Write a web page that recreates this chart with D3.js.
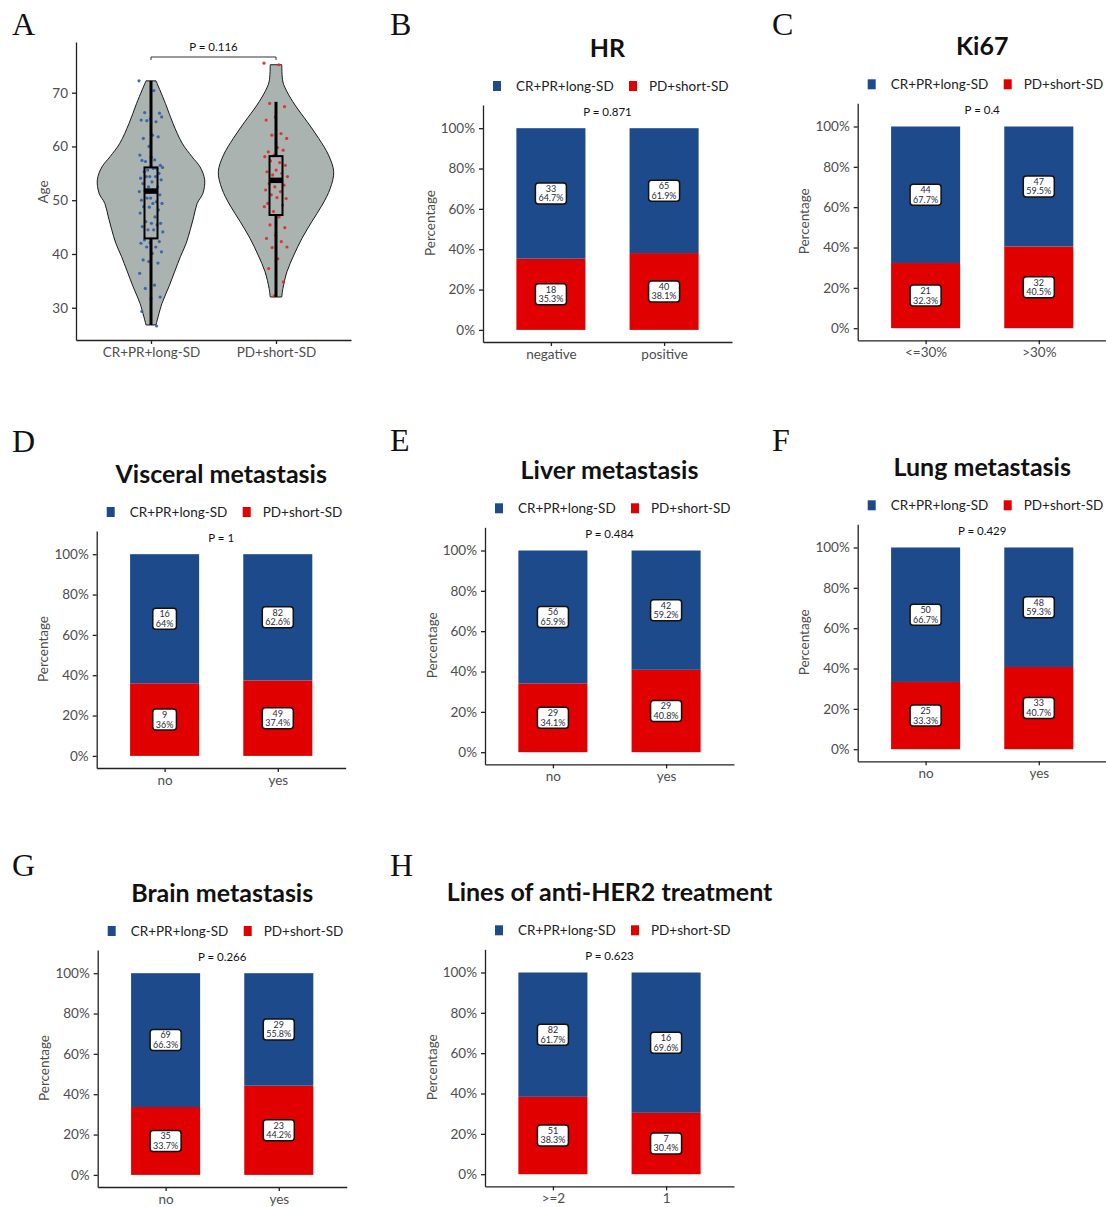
<!DOCTYPE html>
<html>
<head>
<meta charset="utf-8">
<script src="https://cdn.jsdelivr.net/npm/d3@7/dist/d3.min.js"></script>
<style>
  body { margin: 0; background: #fff; }
  svg text { font-family: Lato, "Open Sans", sans-serif; }
</style>
</head>
<body>
<svg id="fig" width="1106" height="1207"></svg>
<script>
// ---- data ----
const groups = ["CR+PR+long-SD", "PD+short-SD"];
const groupColors = ["#1d4a8b", "#e10000"];
const dotColors = ["#2f5ea6", "#e3262b"];

// panel A: age by response
const ageTicks = [30, 40, 50, 60, 70];
const agesGood = [72.2, 70.4, 66.3, 66.2, 65.2, 64.9, 64.6, 64.8, 65.5, 62.1, 61.5, 61.8, 60, 58.4, 57.5,
  57.2, 56.5, 58, 57.4, 55.9, 55.6, 56.1, 55.9, 55.3, 55, 54.4, 54.1, 54.4, 54.4, 53.8, 53.4, 53.1, 52.5,
  52.5, 51.6, 51.6, 51.8, 51, 50.4, 50, 49.7, 50.4, 49.4, 49.4, 48.8, 48.2, 48.7, 47.6, 46.9, 46, 45.7,
  45.7, 45.1, 45.4, 44.5, 44.1, 44.5, 42.6, 42.3, 42.1, 42, 41.3, 41.3, 40.4, 40.1, 38.9, 38.3, 38.6,
  36.4, 34.2, 33.6, 32, 31.7, 29.3, 26.6];
const agesPoor = [75.5, 75.2, 68, 67.4, 65.5, 64.9, 62.4, 62.1, 61.5, 59.8, 59, 59.3, 58.4, 58.1, 57,
  57.3, 56.5, 55.6, 55.3, 55, 54.7, 54.4, 53.8, 53.1, 52.8, 52.5, 51.9, 51.6, 51, 50.3, 50.5, 49.4, 49.1,
  47.9, 48.8, 46.9, 45.4, 44.9, 43.5, 42.9, 42.3, 41.2, 41.3, 39.1, 37.3, 34.8, 32.2];
const violinGoodAge = [26.8, 30.8, 33.9, 37, 39.5, 42, 44.5, 46.9, 49.4, 51.3, 53.8, 56.2, 58.1, 60.6, 64.3, 68, 72.2];
const violinGoodDensity = [0.087, 0.19, 0.31, 0.42, 0.51, 0.61, 0.68, 0.74, 0.80, 0.90, 0.93, 0.85, 0.71, 0.54, 0.38, 0.25, 0.087];
const violinPoorAge = [32.0, 33.6, 36.7, 39.8, 42.9, 46, 49.1, 52.2, 55.3, 58.4, 61.5, 64.6, 67.7, 70.2, 72.0, 75.2];
const violinPoorDensity = [0.10, 0.12, 0.19, 0.31, 0.45, 0.62, 0.80, 0.94, 1, 0.91, 0.74, 0.54, 0.33, 0.19, 0.12, 0.10];
// whisker low, q1, median, q3, whisker high
const boxGood = [26.8, 42.9, 51.7, 56.1, 72.2];
const boxPoor = [32.0, 47.25, 53.7, 58.2, 68.3];
const pAge = "0.116";

// panels B-H: stacked percentage bars
const barTitles = ["HR", "Ki67", "Visceral metastasis", "Liver metastasis", "Lung metastasis",
  "Brain metastasis", "Lines of anti-HER2 treatment"];
const barCategories = [["negative", "positive"], ["<=30%", ">30%"], ["no", "yes"], ["no", "yes"],
  ["no", "yes"], ["no", "yes"], [">=2", "1"]];
const goodCounts = [[33, 65], [44, 47], [16, 82], [56, 42], [50, 48], [69, 29], [82, 16]];
const poorCounts = [[18, 40], [21, 32], [9, 49], [29, 29], [25, 33], [35, 23], [51, 7]];
const barP = ["0.871", "0.4", "1", "0.484", "0.429", "0.266", "0.623"];
const pctTicks = [0, 20, 40, 60, 80, 100];

// ---- layout ----
const svg = d3.select("#fig");
const gray = "#4d4d4d";
const letters = [["A", 12, 35], ["B", 390, 35], ["C", 772, 35], ["D", 12, 452], ["E", 390, 451],
  ["F", 772, 451], ["G", 12, 876], ["H", 390, 876]];
// y-axis x position and 0% baseline of each bar panel
const barOrigins = [[483, 330], [857.7, 328.3], [96.7, 756], [485, 752.3], [857.7, 749.3], [97.7, 1175], [485, 1174.3]];

letters.forEach(function(l) {
  svg.append("text").attr("x", l[1]).attr("y", l[2])
     .style("font-family", "'Liberation Serif', 'Times New Roman', serif")
     .style("font-size", "32px").attr("fill", "#111").text(l[0]);
});

function styleAxis(g) {
  g.selectAll(".domain").attr("stroke", "#222").attr("stroke-width", 1.3);
  g.selectAll(".tick line").attr("stroke", "#222").attr("stroke-width", 1.3);
  g.selectAll(".tick text").attr("fill", gray).style("font-size", "13.5px")
   .style("font-family", "Lato, 'Open Sans', sans-serif");
}

// ---- panel A ----
(function() {
  const y = d3.scaleLinear().domain([24, 79.43]).range([340, 42]);
  const x = d3.scalePoint().domain(groups).range([76, 351]).padding(0.6);
  const wScale = d3.scaleLinear().domain([0, 1]).range([0, 57.7]);

  const violins = [[violinGoodAge, violinGoodDensity], [violinPoorAge, violinPoorDensity]];
  violins.forEach(function(v, gi) {
    const cx = x(groups[gi]);
    const pts = v[0].map((a, i) => [a, v[1][i]]);
    const area = d3.area()
      .y(d => y(d[0]))
      .x0(d => cx - wScale(d[1]))
      .x1(d => cx + wScale(d[1]))
      .curve(d3.curveCatmullRom);
    svg.append("path").datum(pts).attr("d", area)
       .attr("fill", "#abb3b1").attr("stroke", "#1a1a1a").attr("stroke-width", 1);
  });

  // jittered points
  [agesGood, agesPoor].forEach(function(ages, gi) {
    const cx = x(groups[gi]);
    svg.append("g").selectAll("circle").data(ages).enter().append("circle")
       .attr("cx", (d, i) => cx + (((i * 0.618034) % 1) * 2 - 1) * 12)
       .attr("cy", d => y(d))
       .attr("r", 1.6)
       .attr("fill", dotColors[gi]).attr("opacity", 0.9);
  });

  // boxplots
  [boxGood, boxPoor].forEach(function(b, gi) {
    const cx = x(groups[gi]);
    const bw = 13;
    svg.append("line").attr("x1", cx).attr("x2", cx).attr("y1", y(b[0])).attr("y2", y(b[1]))
       .attr("stroke", "#000").attr("stroke-width", 3);
    svg.append("line").attr("x1", cx).attr("x2", cx).attr("y1", y(b[3])).attr("y2", y(b[4]))
       .attr("stroke", "#000").attr("stroke-width", 3);
    svg.append("rect").attr("x", cx - bw / 2).attr("y", y(b[3]))
       .attr("width", bw).attr("height", y(b[1]) - y(b[3]))
       .attr("fill", "none").attr("stroke", "#000").attr("stroke-width", 2);
    svg.append("line").attr("x1", cx - bw / 2).attr("x2", cx + bw / 2).attr("y1", y(b[2])).attr("y2", y(b[2]))
       .attr("stroke", "#000").attr("stroke-width", 5.5);
  });

  const gy = svg.append("g").attr("transform", "translate(76,0)")
    .call(d3.axisLeft(y).tickValues(ageTicks).tickSize(4).tickSizeOuter(0).tickPadding(4));
  styleAxis(gy);
  const gx = svg.append("g").attr("transform", "translate(0,340)")
    .call(d3.axisBottom(x).tickSize(4).tickSizeOuter(0).tickPadding(3));
  styleAxis(gx);

  svg.append("text")
     .attr("transform", "translate(43,192)rotate(-90)")
     .attr("text-anchor", "middle").attr("dy", "0.35em")
     .attr("fill", gray).style("font-size", "13.5px").text("Age");

  // p-value bracket
  const x1 = x(groups[0]), x2 = x(groups[1]), by = 57;
  svg.append("path").attr("d", `M${x1},${by + 3}V${by}H${x2}V${by + 3}`)
     .attr("fill", "none").attr("stroke", "#333").attr("stroke-width", 1);
  svg.append("text").attr("x", (x1 + x2) / 2).attr("y", by - 6)
     .attr("text-anchor", "middle").attr("fill", "#111").style("font-size", "11.5px")
     .text("P = " + pAge);
})();

// ---- panels B-H ----
function fmtPct(v) {
  return d3.format(".1f")(v).replace(/\.0$/, "") + "%";
}

barTitles.forEach(function(title, pi) {
  const ax = barOrigins[pi][0], y0 = barOrigins[pi][1];
  const cats = barCategories[pi];
  const y = d3.scaleLinear().domain([-6, 111.5]).range([y0 + 12, y0 - 225]);
  const x = d3.scalePoint().domain(cats).range([ax, ax + 249]).padding(0.6);
  const bw = x.step() * 0.61;

  cats.forEach(function(c, ci) {
    const good = goodCounts[pi][ci], poor = poorCounts[pi][ci];
    const tot = good + poor;
    const pPoor = poor / tot * 100, pGood = good / tot * 100;
    const segs = [
      {lo: 0, hi: pPoor, color: groupColors[1], n: poor, p: pPoor},
      {lo: pPoor, hi: 100, color: groupColors[0], n: good, p: pGood}
    ];
    segs.forEach(function(s) {
      svg.append("rect").attr("x", x(c) - bw / 2).attr("y", y(s.hi))
         .attr("width", bw).attr("height", y(s.lo) - y(s.hi))
         .attr("fill", s.color);
    });
    segs.forEach(function(s) {
      const cy = y((s.lo + s.hi) / 2);
      const lg = svg.append("g");
      const box = lg.append("rect");
      const t = lg.append("text").attr("text-anchor", "middle")
        .attr("fill", "#2a2a3a").style("font-size", "9px");
      t.append("tspan").attr("x", x(c)).attr("y", cy - 4.8).attr("dy", "0.35em").text(s.n);
      t.append("tspan").attr("x", x(c)).attr("y", cy + 4.8).attr("dy", "0.35em").text(fmtPct(s.p));
      const tw = t.node().getBBox().width;
      box.attr("x", x(c) - tw / 2 - 3).attr("y", cy - 10.5)
         .attr("width", tw + 6).attr("height", 21).attr("rx", 3)
         .attr("fill", "#fff").attr("stroke", "#111").attr("stroke-width", 1.5);
    });
  });

  const gy = svg.append("g").attr("transform", `translate(${ax},0)`)
    .call(d3.axisLeft(y).tickValues(pctTicks).tickFormat(d => d + "%").tickSize(4).tickSizeOuter(0).tickPadding(4));
  styleAxis(gy);
  const gx = svg.append("g").attr("transform", `translate(0,${y0 + 12})`)
    .call(d3.axisBottom(x).tickSize(4).tickSizeOuter(0).tickPadding(3));
  styleAxis(gx);

  svg.append("text")
     .attr("transform", `translate(${ax - 53},${y0 - 107})rotate(-90)`)
     .attr("text-anchor", "middle").attr("dy", "0.35em")
     .attr("fill", gray).style("font-size", "13.5px").text("Percentage");

  const mid = (x(cats[0]) + x(cats[1])) / 2;
  svg.append("text").attr("x", mid).attr("y", y0 - 282).attr("dy", "0.35em")
     .attr("text-anchor", "middle").attr("fill", "#111")
     .style("font-size", "25px").style("font-weight", "bold").text(title);

  svg.append("text").attr("x", mid).attr("y", y0 - 218).attr("dy", "0.35em")
     .attr("text-anchor", "middle").attr("fill", "#111").style("font-size", "11.5px")
     .text("P = " + barP[pi]);

  // legend
  const ly = y0 - 244;
  const legend = [[ax + 10, ax + 33], [ax + 146, ax + 166]];
  legend.forEach(function(l, gi) {
    svg.append("rect").attr("x", l[0]).attr("y", ly - 5).attr("width", 8).attr("height", 10)
       .attr("fill", groupColors[gi]);
    svg.append("text").attr("x", l[1]).attr("y", ly).attr("dy", "0.35em")
       .attr("fill", "#222").style("font-size", "13.5px").text(groups[gi]);
  });
});
</script>
</body>
</html>
